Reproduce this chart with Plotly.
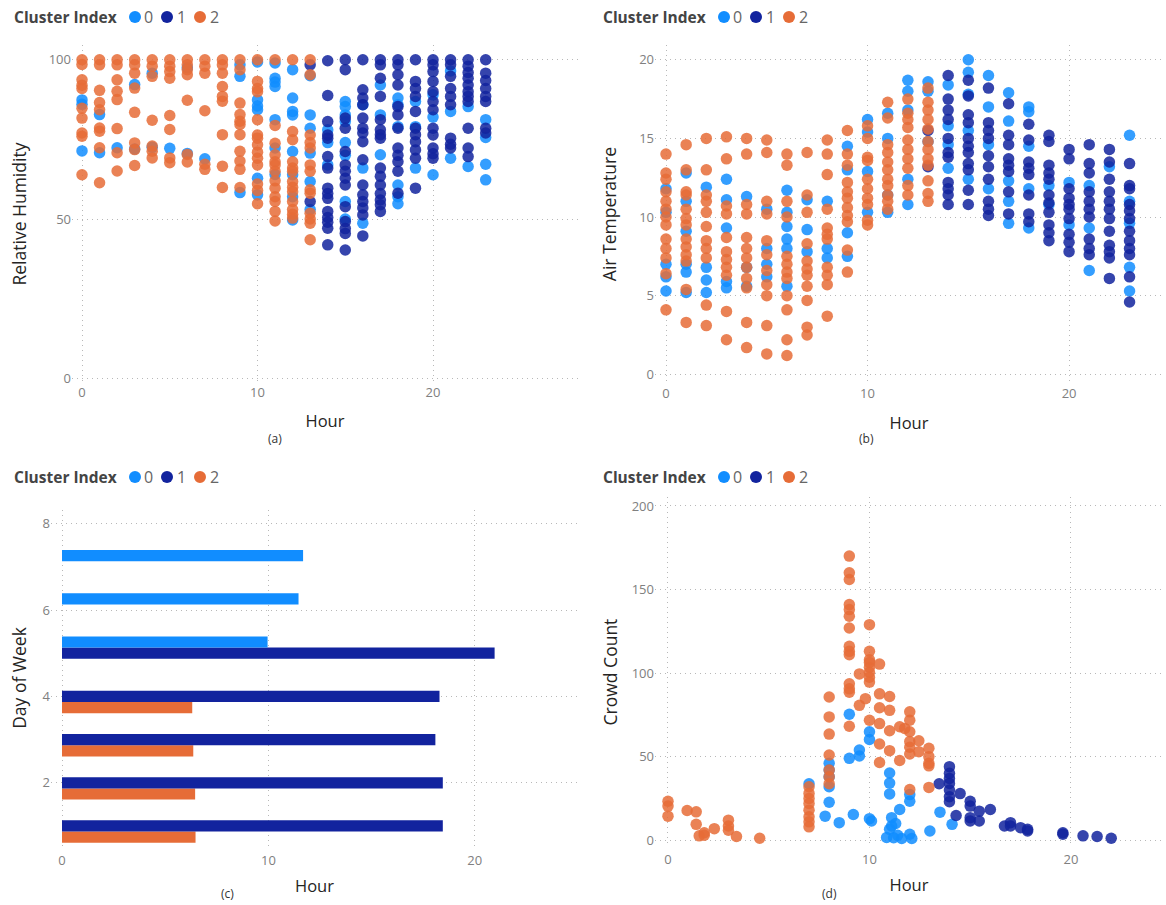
import plotly.graph_objects as go

W, H = 1166, 905
C0, C1, C2 = "#118DFF", "#12239E", "#E66C37"
COLORS = [C0, C1, C2]
CLUSTERS = ["0", "1", "2"]

hours = list(range(24))

# ---------------- (a) Relative Humidity by hour, per cluster ----------------
rh_c0 = [
    [87.4, 86, 71.4], [82.8, 70.8], [72.4], [92.2, 72], [95.8, 72.5], [72.2],
    [97.5, 70.6], [68.9], [], [98.4, 94.8, 58.3],
    [99.3, 87.4, 85.5, 84.3, 62.8, 57.6],
    [99, 94.2, 93, 91.6, 81.2, 72.3, 64],
    [96.9, 88, 83.8, 82.7, 71.2, 63.9, 57, 49.7],
    [95, 82.7, 78.5, 70.7, 61.8, 53],
    [78, 74, 67],
    [86.9, 85.3, 82.7, 80.6, 74, 70, 55.5, 50],
    [85.9, 66, 48.7],
    [92.1, 82.7, 70.2],
    [88, 85.9, 79, 60.7, 57, 54.8],
    [86.9, 79, 66],
    [89, 82, 63.9],
    [96.5, 83.8, 69.1],
    [85.3, 66.5],
    [81.2, 75.6, 67.2, 62.3],
]
rh_c1 = [
    [], [], [], [], [], [], [], [], [], [], [], [], [],
    [98.4, 55.5],
    [99.7, 88.8, 80.6, 76.4, 75.4, 69.6, 66, 59.7, 58, 56.5, 52.4, 50.5, 49, 47.1, 41.9],
    [100, 96.9, 81.7, 78.5, 71.2, 67, 65, 62.8, 60.7, 53.9, 49.2, 47, 45.5, 40.3],
    [100, 90.6, 88, 85.9, 81.7, 78.5, 77, 74.3, 68.6, 60.7, 57.6, 55.5, 53.5, 51.3, 44.7],
    [100, 98.4, 94.2, 88.5, 81.2, 78, 76.5, 75.4, 66, 63.4, 60.7, 58, 56, 54.5, 52.4],
    [100, 98.4, 95.3, 92.1, 85.3, 82.7, 78.5, 72.3, 70, 68, 65, 58.1],
    [100, 93.2, 91, 88.5, 83.8, 78.5, 76.5, 74.3, 71.7, 69.1, 59.7],
    [100, 98.4, 96.3, 93.2, 90, 86.9, 84.3, 78.5, 76.4, 72.3, 70.5, 69.1],
    [100, 98.4, 94.8, 91, 88.5, 85.9, 75.4, 73.5, 72.3],
    [100, 98, 96, 94.2, 92.1, 90, 88.5, 86.9, 78.5, 72.3, 69.6],
    [100, 95.8, 93.5, 91, 88.5, 86.9, 78.5, 77],
]
rh_c2 = [
    [100, 98.5, 93.7, 92, 91, 84.8, 81.7, 77, 76, 63.9],
    [100, 98.4, 90.4, 86.6, 84.3, 78.6, 77.6, 72.4, 61.4],
    [100, 98.4, 93.7, 90.1, 87.5, 78.4, 70.8, 65.1],
    [100, 98.4, 95.8, 91.1, 83.5, 73.9, 71.8, 66.8],
    [100, 98, 94.8, 81, 72.9, 71.3, 69.2],
    [100, 98, 96.3, 94.2, 82.5, 78.1, 69.2, 67.7],
    [100, 98.4, 96.9, 95.3, 87.3, 70.3, 67.9],
    [100, 98, 95.8, 84, 67.2, 65.6],
    [100, 98.4, 95.8, 91.6, 88.5, 87, 76.5, 66.6, 59.9],
    [100, 96.9, 86.4, 82.8, 80.7, 79.7, 76.5, 71.3, 68.2, 65.6, 59.9],
    [100, 93.2, 91, 90, 81.2, 76.4, 75.4, 73.3, 71, 69.1, 67, 61, 59, 54.8],
    [100, 79.4, 73.8, 70.2, 68, 67, 65, 62, 59.7, 57, 55.5, 52.4, 49.4],
    [100, 77.5, 74.9, 68, 66, 65, 61.8, 60, 58.6, 55.5, 53, 51.5, 50.3],
    [100, 95.3, 76.4, 74, 72.3, 67, 65, 59.2, 58.1, 51.8, 50, 48.7, 43.5],
    [], [], [], [], [], [], [], [], [], [],
]

# ---------------- (b) Air Temperature by hour, per cluster ----------------
temp_c0 = [
    [11.8, 10.3, 7, 6.2, 5.3],
    [12.8, 11, 9.1, 7, 6.5, 5.2],
    [11.9, 6.8, 6, 5.2],
    [12.4, 11.1, 9.3, 5.9, 5.5],
    [11.3, 6.8, 5.6],
    [10.5, 8, 7, 6.2],
    [11.7, 10.3, 9.4, 8.6, 8, 5.6],
    [11.1, 9.2, 7.8],
    [11, 8, 7.4],
    [14.5, 13, 9, 7.5],
    [16.2, 15.4, 12.9, 10.3],
    [16.6, 15, 11.4, 10.3],
    [18.7, 18, 16.8, 12.4, 10.8],
    [18.6, 18, 14.8],
    [18.4, 15.8, 14.6, 13.1],
    [20, 19.2, 17.8, 15.5, 12.4],
    [19, 17, 14.6, 11.8],
    [17.9, 16.1, 12.3, 11, 9.6],
    [17, 16.7, 14.5, 11.8, 9.3],
    [12, 10.8],
    [12.2, 9.5],
    [12, 9.3, 6.6],
    [13.2],
    [15.2, 11, 9.6, 6.8, 5.3],
]
temp_c1 = [
    [], [], [], [], [], [], [], [], [], [], [], [], [],
    [15.5, 13.2],
    [19, 17.5, 16.8, 16.2, 15, 14.1, 13.8, 12.2, 11.8, 11.4, 10.8],
    [18.7, 17.7, 16.5, 16, 15, 14.5, 14.1, 13.4, 13, 11.7, 10.8],
    [18.2, 16, 15.5, 15, 13.9, 13.2, 12.4, 11, 10.5, 10.1],
    [17.2, 15.2, 14.6, 13.7, 13.3, 12.9, 11.6, 10.2],
    [15.9, 14.9, 13.5, 13.1, 12.7, 11.4, 10.2, 9.7],
    [15.2, 14.8, 13.3, 12.8, 12.4, 11.4, 10.9, 10.3, 9.5, 9, 8.5],
    [14.3, 13.7, 11.8, 11.2, 10.8, 10.5, 9.9, 8.9, 8.4, 7.8],
    [14.6, 13.4, 12.8, 11.6, 11, 10.5, 10, 8.6, 8, 7.6],
    [14.3, 13.5, 12.4, 11.6, 11, 10.5, 9.9, 9.1, 8.2, 7.8, 7.4, 6.1],
    [13.4, 12, 11.8, 10.8, 10.4, 9.9, 9.1, 8.5, 8, 7.6, 6.2, 4.6],
]
temp_c2 = [
    [14, 12.8, 12.4, 11.6, 11, 10.5, 10, 9.5, 8.6, 8, 7.4, 6.4, 4.1],
    [14.6, 13, 11.6, 11.4, 10.5, 9.9, 9.5, 8.6, 8.1, 7.6, 7.2, 5.4, 3.3],
    [15, 13, 11.4, 11, 10.3, 9.4, 8.5, 8, 7.4, 4.4, 3.1],
    [15.1, 13.7, 10.7, 10.2, 8.7, 7.8, 7.3, 6.8, 6.3, 4, 2.2],
    [15, 14, 10.8, 10.2, 8.7, 8, 7.4, 6.8, 6.1, 5.5, 3.3, 1.7],
    [14.9, 14.1, 11, 10.2, 8.5, 7.6, 6.6, 5.7, 5, 3.1, 1.3],
    [14, 13.3, 11, 10, 7.5, 7, 6.5, 6.1, 5, 4.1, 2.2, 1.2],
    [14.1, 11.4, 10.3, 8.3, 7.2, 6.7, 6.3, 5.6, 4.7, 3, 2.5],
    [14.9, 14, 12.7, 10.5, 9.3, 8.9, 8.6, 6.8, 6.3, 5.7, 3.7],
    [15.5, 14, 13.3, 12.2, 11.6, 11.2, 10.6, 10.1, 9.7, 7.9, 6.5],
    [15.8, 15, 13.8, 13.6, 12.4, 11.8, 11.2, 10.8, 9.8, 9.5],
    [17.3, 16.3, 14.6, 14.1, 13.5, 13, 12.4, 12, 11.4, 11, 10.5],
    [17.5, 16.6, 16.2, 15.7, 14.9, 14.3, 13.7, 13.1, 12, 11.4],
    [18.2, 17.3, 16.8, 16.2, 15.6, 14.8, 14.3, 13.7, 13.3, 12.3, 11.5, 11],
    [], [], [], [], [], [], [], [], [], [],
]

# ---------------- (c) Day of Week vs Hour (bars) ----------------
dow_days_c0 = [7, 6, 5]
dow_hour_c0 = [11.68, 11.46, 9.96]
dow_days_c1 = [5, 4, 3, 2, 1]
dow_hour_c1 = [20.96, 18.29, 18.09, 18.45, 18.45]
dow_days_c2 = [4, 3, 2, 1]
dow_hour_c2 = [6.31, 6.36, 6.45, 6.47]

# ---------------- (d) Crowd Count vs Hour ----------------
crowd_hour_c0 = [7, 8, 8, 8, 8, 8, 7.8, 8.5, 9, 9, 9.2, 9.5, 9.5, 10, 10, 10, 10.1,
                 11, 11, 11, 11.1, 11.3, 11.1, 11, 10.85, 11.2, 11.5, 11.4, 11.6,
                 12, 12, 12, 12.1, 13, 13.5, 14.1]
crowd_cnt_c0 = [33.8, 46, 42, 38, 32, 22.7, 14.4, 10.5, 75.4, 49, 15.4, 54, 50.4, 64.9, 60.3, 12.9, 11.5,
                40.2, 34.2, 27.7, 13.5, 10, 8.5, 6.5, 1.6, 1.5, 18.4, 3, 1,
                27.3, 23.3, 3.6, 1, 5.5, 16.8, 9.5]
crowd_hour_c1 = [13.46, 13.97, 13.97, 13.97, 13.97, 13.97, 13.97, 13.97, 14.3, 14.5,
                 15, 15, 15, 15, 15.45, 15.45, 16, 16.7, 17, 17, 17.5, 17.85, 17.85,
                 19.6, 19.6, 20.6, 21.3, 22]
crowd_cnt_c1 = [33.8, 44, 40, 37, 34, 30, 26, 23, 14.8, 27.9,
                23.3, 20.4, 13.5, 11.5, 17.4, 11.5, 18.4, 8.5, 10.5, 8.5, 7.5, 6.5, 5.5,
                4.5, 3.6, 2.6, 2.2, 1.2]
crowd_hour_c2 = [0, 0, 0, 0.95, 1.4, 1.4, 1.55, 1.8, 1.8, 2.3, 3, 3, 3, 3.4, 4.55,
                 7, 7, 7, 7, 7, 7, 7, 7,
                 8, 8, 8, 8, 8, 8, 8,
                 9, 9, 9, 9, 9, 9, 9, 9, 9, 9, 9, 9, 9, 9,
                 9.5, 9.5, 9.8,
                 10, 10, 10, 10, 10, 10, 10, 10, 10,
                 10.5, 10.5, 10.5, 10.5, 10.5, 10.5,
                 11, 11, 11, 11, 11.5, 11.5, 11.75,
                 12, 12, 12, 12, 12, 12, 12, 12.45, 12.45,
                 12.95, 12.95, 12.95, 12.95, 12.95]
crowd_cnt_c2 = [23.3, 20.4, 14.4, 17.8, 17, 9.5, 2.6, 4.5, 3, 6.9, 12, 8.5, 6, 2.2, 1.2,
                32, 28, 25, 22, 18, 14, 11, 8,
                85.7, 73.8, 63.5, 51, 42, 38, 33.8,
                170, 160, 156, 141, 138, 134, 127, 116, 113, 111, 93.6, 90.6, 88.6, 68.2,
                99.5, 80.7, 84.7,
                129, 113, 106.4, 103.5, 100.5, 97.5, 94.6, 71.8, 108,
                105.4, 87.6, 79.3, 69.8, 57.6, 46.5,
                86, 77.7, 65.5, 53.6, 67.9, 47.7, 66.9,
                76.8, 71.8, 64.9, 59, 55.6, 51.6, 30.3, 59.5, 53,
                55, 50, 46, 44.5, 31.6]


def expand(nested):
    xs, ys = [], []
    for h, vals in zip(hours, nested):
        xs += [h] * len(vals)
        ys += vals
    return xs, ys


def fx(p):
    return p / W


def fy(p):
    return 1 - p / H


FONT = "Segoe UI, Open Sans, sans-serif"
fig = go.Figure()

MK = dict(size=11.5, opacity=0.85, line=dict(width=0))

# (a)
for c, nested in zip(range(3), [rh_c0, rh_c1, rh_c2]):
    xs, ys = expand(nested)
    fig.add_trace(go.Scatter(x=xs, y=ys, mode="markers", name=CLUSTERS[c], showlegend=False,
                             marker=dict(color=COLORS[c], **MK), xaxis="x", yaxis="y"))
# (b)
for c, nested in zip(range(3), [temp_c0, temp_c1, temp_c2]):
    xs, ys = expand(nested)
    fig.add_trace(go.Scatter(x=xs, y=ys, mode="markers", name=CLUSTERS[c], showlegend=False,
                             marker=dict(color=COLORS[c], **MK), xaxis="x2", yaxis="y2"))
# (c) - added in reverse so cluster 0 sits on top within each group
for c, dd, hh in [(2, dow_days_c2, dow_hour_c2), (1, dow_days_c1, dow_hour_c1), (0, dow_days_c0, dow_hour_c0)]:
    fig.add_trace(go.Bar(x=hh, y=dd, orientation="h", name=CLUSTERS[c], showlegend=False,
                         marker=dict(color=COLORS[c], line=dict(width=0)), xaxis="x3", yaxis="y3"))
# (d)
for c, hh, cc in [(0, crowd_hour_c0, crowd_cnt_c0), (1, crowd_hour_c1, crowd_cnt_c1), (2, crowd_hour_c2, crowd_cnt_c2)]:
    fig.add_trace(go.Scatter(x=hh, y=cc, mode="markers", name=CLUSTERS[c], showlegend=False,
                             marker=dict(color=COLORS[c], **MK), xaxis="x4", yaxis="y4"))

GRID = dict(showgrid=True, gridcolor="#b8b8b8", griddash="1px,4px", gridwidth=1, zeroline=False,
            showline=False, ticks="", tickfont=dict(family=FONT, size=13, color="#808080"))
XTITLEF = dict(family=FONT, size=16.5, color="#252423")
YTITLEF = dict(family=FONT, size=17.5, color="#252423")

panels = {
    "a": dict(xd=(72, 578), yd=(45, 385), xr=(-0.57, 28.26), yr=(-1.56, 104.7), ydt=50,
              ytitle="Relative Humidity", xst=15, yst=17, tls=0),
    "b": dict(xd=(655, 1163), yd=(45, 385), xr=(-0.546, 24.66), yr=(-0.57, 20.95), ydt=5,
              ytitle="Air Temperature", xst=16, yst=17, tls=1),
    "c": dict(xd=(51, 578), yd=(512, 850), xr=(-0.533, 25.0), yr=(0.53, 8.323), ydt=2,
              ytitle="Day of Week", xst=12, yst=11, tls=5),
    "d": dict(xd=(655, 1163), yd=(499, 851), xr=(-0.645, 24.57), yr=(-4.2, 205.5), ydt=50,
              ytitle="Crowd Count", xst=12, yst=9, tls=3),
}
layout = {}
for i, (k, p) in enumerate(panels.items()):
    sx = "" if i == 0 else str(i + 1)
    layout["xaxis" + sx] = dict(domain=[fx(p["xd"][0]), fx(p["xd"][1])], range=list(p["xr"]), dtick=10,
                                tick0=0, anchor="y" + sx, ticklabelstandoff=p["tls"],
                                title=dict(text="Hour", font=XTITLEF, standoff=p["xst"]), **GRID)
    layout["yaxis" + sx] = dict(domain=[fy(p["yd"][1]), fy(p["yd"][0])], range=list(p["yr"]), dtick=p["ydt"],
                                tick0=0, anchor="x" + sx,
                                title=dict(text=p["ytitle"], font=YTITLEF, standoff=p["yst"]), **GRID)

fig.update_layout(width=W, height=H, margin=dict(l=0, r=0, t=0, b=0), paper_bgcolor="white",
                  plot_bgcolor="white", barmode="group", bargap=0.22, bargroupgap=0,
                  showlegend=False, **layout)

# Legends (Cluster Index header for each panel) and captions
annotations = []
shapes = []
for (lx, ly) in [(12, 17), (601, 17), (12, 479), (601, 479)]:
    annotations.append(dict(text="<b>Cluster Index</b>", x=fx(lx), y=fy(ly), xref="paper", yref="paper",
                            xanchor="left", yanchor="middle", showarrow=False,
                            font=dict(family=FONT, size=15.5, color="#444444")))
    for c, (dc, dt) in enumerate([(123, 130), (155, 163), (188, 196)]):
        shapes.append(dict(type="circle", xref="paper", yref="paper", xsizemode="pixel", ysizemode="pixel",
                           xanchor=fx(lx + dc), yanchor=fy(ly), x0=-6, x1=6, y0=-6, y1=6,
                           fillcolor=COLORS[c], line=dict(width=0)))
        annotations.append(dict(text=CLUSTERS[c], x=fx(lx + dt), y=fy(ly), xref="paper", yref="paper",
                                xanchor="left", yanchor="middle", showarrow=False,
                                font=dict(family=FONT, size=16, color="#666666")))
for cap, cx, cy in [("(a)", 275, 440), ("(b)", 866, 440), ("(c)", 227, 897), ("(d)", 829, 897)]:
    annotations.append(dict(text=cap, x=fx(cx), y=fy(cy), xref="paper", yref="paper", xanchor="center",
                            yanchor="middle", showarrow=False, font=dict(family=FONT, size=12, color="#333333")))
fig.update_layout(annotations=annotations, shapes=shapes)

fig.write_html("out.html", config={"displayModeBar": False},
               post_script="document.body.style.margin='0';document.body.style.overflow='hidden';")
